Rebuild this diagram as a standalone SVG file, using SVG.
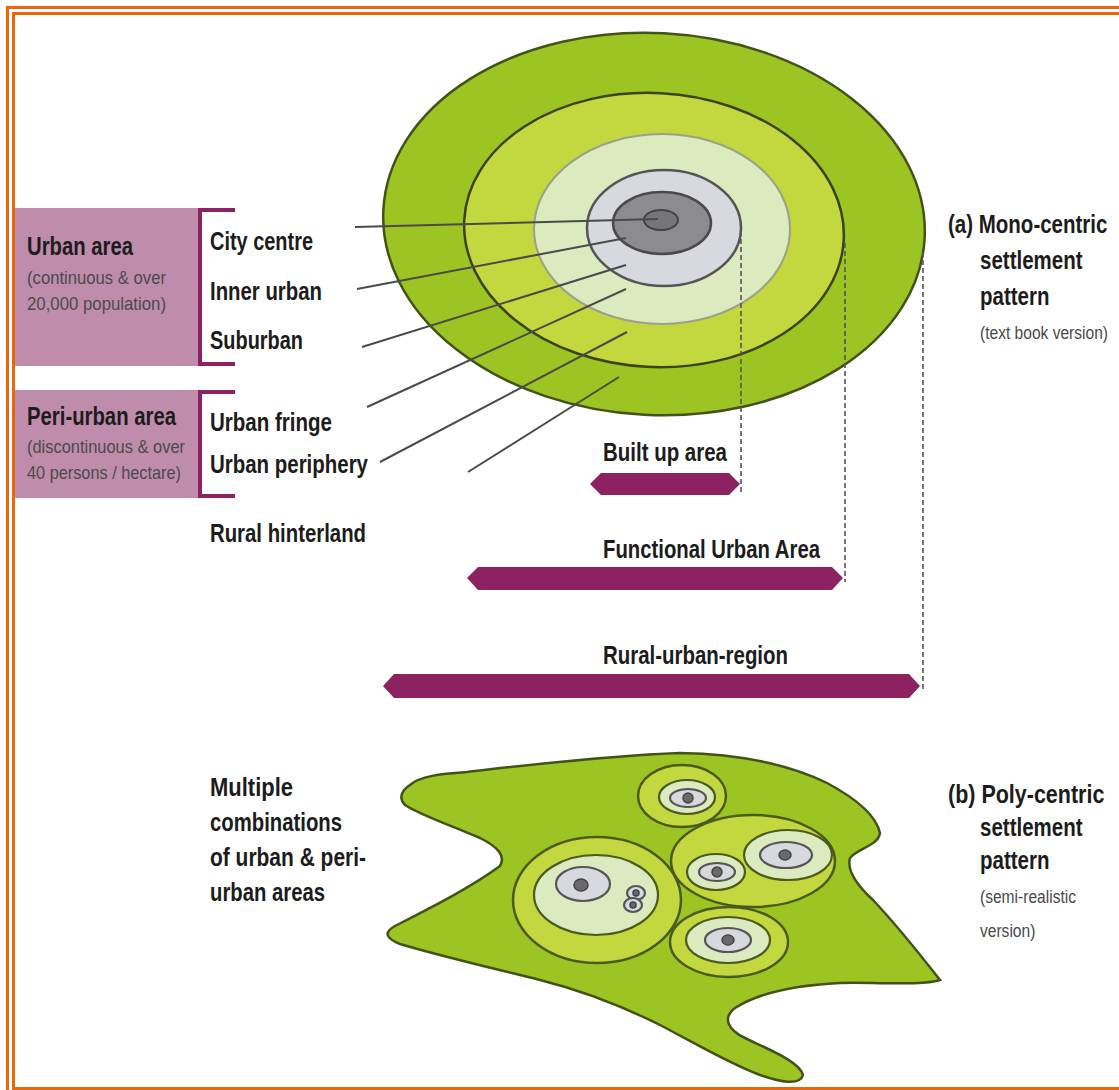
<svg xmlns="http://www.w3.org/2000/svg" width="1119" height="1090" viewBox="0 0 1119 1090">
  <defs>
    <style>
      .frame { fill: none; stroke: #E2690C; stroke-width: 3; }
      .lbl { font-family: "Liberation Sans Narrow", "Liberation Sans", Arial, sans-serif; font-weight: 700; fill: #1c1c1c; }
      .big { font-size: 26px; }
      .ttl { font-size: 25px; }
      .sub { font-size: 19px; font-weight: 400; fill: #4a4a4a; }
      .box { fill: #BF8DAB; }
      .bracket { fill: none; stroke: #8C2360; stroke-width: 4; }
      .bar { fill: #8C2360; }
      .leader { stroke: #4a4a4a; stroke-width: 2; fill: none; }
      .dash { stroke: #555; stroke-width: 1.6; stroke-dasharray: 5 3; fill: none; }
      .g1 { fill: #9CC423; stroke: #435218; stroke-width: 2.5; }
      .g2 { fill: #C3D73E; stroke: #3a4418; stroke-width: 2.5; }
      .g3 { fill: #DCEAC0; stroke: #9aa08a; stroke-width: 2; }
      .gr1 { fill: #D8D9DE; stroke: #555; stroke-width: 2.5; }
      .gr2 { fill: #8C8C90; stroke: #4a4a4a; stroke-width: 2.5; }
      .core { fill: #767679; stroke: #444; stroke-width: 2; }
      .s-g2 { fill: #C3D73E; stroke: #4B5A1E; stroke-width: 2.5; }
      .s-g3 { fill: #DCEAC0; stroke: #4B5A1E; stroke-width: 2.2; }
      .s-gr { fill: #D8D9DE; stroke: #555; stroke-width: 2.2; }
      .s-dot { fill: #6a6a6e; stroke: #444; stroke-width: 1.5; }
    </style>
  </defs>

  <rect width="1119" height="1090" fill="#ffffff"/>

  <!-- double frame -->
  <g id="frame">
    <path class="frame" d="M7.5 1090 V7.5 H1119"/>
    <path class="frame" d="M13.5 1090 V13.5 H1119"/>
    <path class="frame" d="M12 1088.5 H1119"/>
  </g>

  <!-- mono-centric settlement rings -->
  <g id="monocentric">
    <ellipse class="g1" cx="654" cy="224" rx="271" ry="191" transform="rotate(3 654 224)"/>
    <ellipse class="g2" cx="654" cy="230" rx="190" ry="137" transform="rotate(3 654 230)"/>
    <ellipse class="g3" cx="662" cy="229" rx="128" ry="95"/>
    <ellipse class="gr1" cx="664" cy="228" rx="77" ry="58"/>
    <ellipse class="gr2" cx="662" cy="223" rx="49" ry="31"/>
    <ellipse class="core" cx="661" cy="220" rx="17" ry="10"/>
  </g>

  <!-- poly-centric settlement pattern -->
  <g id="polycentric">
    <path class="g1" d="M410 785 C420 776 440 774 467 772 C520 766 600 756 680 753 C740 754 790 765 827 783 C855 798 876 815 880 833 C878 846 858 848 850 858 C846 872 860 888 873 900 C890 918 915 948 940 980 C920 986 880 982 840 983 C800 985 760 992 735 1008 C722 1018 728 1030 745 1038 C770 1050 800 1062 803 1075 C800 1086 780 1082 760 1075 C730 1064 700 1046 660 1025 C620 1005 580 990 540 980 C500 970 440 956 400 944 C385 938 384 932 395 926 C430 908 470 888 500 866 C506 856 498 847 480 838 C450 825 420 815 405 805 C398 798 402 790 410 785 Z"/>
    <!-- cluster B -->
    <g id="cluster-b">
      <ellipse class="s-g2" cx="597" cy="900" rx="84" ry="63"/>
      <ellipse class="s-g3" cx="596" cy="895" rx="62" ry="40"/>
      <ellipse class="s-gr" cx="583" cy="884" rx="27" ry="17"/>
      <ellipse class="s-dot" cx="581" cy="885" rx="7" ry="6"/>
      <ellipse class="s-gr" cx="636" cy="893" rx="9" ry="7"/>
      <circle class="s-dot" cx="636" cy="893" r="3"/>
      <ellipse class="s-gr" cx="633" cy="905" rx="9" ry="7"/>
      <circle class="s-dot" cx="633" cy="905" r="3"/>
    </g>
    <!-- cluster A -->
    <g id="cluster-a">
      <ellipse class="s-g2" cx="682" cy="796" rx="44" ry="31"/>
      <ellipse class="s-g3" cx="687" cy="797" rx="28" ry="17"/>
      <ellipse class="s-gr" cx="688" cy="798" rx="18" ry="9"/>
      <ellipse class="s-dot" cx="688" cy="798" rx="5" ry="5"/>
    </g>
    <!-- cluster C -->
    <g id="cluster-c">
      <ellipse class="s-g2" cx="753" cy="861" rx="82" ry="46"/>
      <ellipse class="s-g3" cx="788" cy="855" rx="44" ry="25"/>
      <ellipse class="s-gr" cx="786" cy="855" rx="26" ry="13"/>
      <ellipse class="s-dot" cx="785" cy="855" rx="6" ry="5"/>
      <ellipse class="s-g3" cx="716" cy="872" rx="29" ry="18"/>
      <ellipse class="s-gr" cx="717" cy="872" rx="18" ry="9"/>
      <ellipse class="s-dot" cx="717" cy="872" rx="5" ry="5"/>
    </g>
    <!-- cluster D -->
    <g id="cluster-d">
      <ellipse class="s-g2" cx="729" cy="942" rx="59" ry="35"/>
      <ellipse class="s-g3" cx="728" cy="940" rx="42" ry="23"/>
      <ellipse class="s-gr" cx="728" cy="940" rx="23" ry="12"/>
      <ellipse class="s-dot" cx="728" cy="940" rx="6" ry="5"/>
    </g>
  </g>

  <!-- leaders and extent guides -->
  <g id="connectors">
    <line class="leader" x1="355" y1="227" x2="658" y2="219"/>
    <line class="leader" x1="357" y1="289" x2="626" y2="238"/>
    <line class="leader" x1="362" y1="347" x2="626" y2="265"/>
    <line class="leader" x1="367" y1="407" x2="626" y2="289"/>
    <line class="leader" x1="380" y1="462" x2="627" y2="332"/>
    <line class="leader" x1="468" y1="472" x2="619" y2="377"/>
    <line class="dash" x1="741" y1="231" x2="741" y2="492"/>
    <line class="dash" x1="845" y1="243" x2="845" y2="582"/>
    <line class="dash" x1="923" y1="252" x2="923" y2="692"/>
  </g>

  <!-- urban area box -->
  <g id="urban-area">
    <rect class="box" x="15" y="208" width="183" height="158"/>
    <path class="bracket" d="M235 210 H200 V364 H235"/>
    <text class="lbl ttl" x="27" y="255" textLength="106" lengthAdjust="spacingAndGlyphs">Urban area</text>
    <text class="lbl sub" x="27" y="284" textLength="139" lengthAdjust="spacingAndGlyphs">(continuous &amp; over</text>
    <text class="lbl sub" x="27" y="310" textLength="139" lengthAdjust="spacingAndGlyphs">20,000 population)</text>
  </g>

  <!-- peri-urban area box -->
  <g id="peri-urban-area">
    <rect class="box" x="15" y="390" width="183" height="108"/>
    <path class="bracket" d="M235 392 H200 V496 H235"/>
    <text class="lbl ttl" x="27" y="425" textLength="149" lengthAdjust="spacingAndGlyphs">Peri-urban area</text>
    <text class="lbl sub" x="27" y="453" textLength="158" lengthAdjust="spacingAndGlyphs">(discontinuous &amp; over</text>
    <text class="lbl sub" x="27" y="479" textLength="154" lengthAdjust="spacingAndGlyphs">40 persons / hectare)</text>
  </g>

  <!-- zone labels -->
  <g id="zone-labels">
    <text class="lbl big" x="210" y="250" textLength="103" lengthAdjust="spacingAndGlyphs">City centre</text>
    <text class="lbl big" x="210" y="300" textLength="112" lengthAdjust="spacingAndGlyphs">Inner urban</text>
    <text class="lbl big" x="210" y="349" textLength="93" lengthAdjust="spacingAndGlyphs">Suburban</text>
    <text class="lbl big" x="210" y="431" textLength="122" lengthAdjust="spacingAndGlyphs">Urban fringe</text>
    <text class="lbl big" x="210" y="473" textLength="158" lengthAdjust="spacingAndGlyphs">Urban periphery</text>
    <text class="lbl big" x="210" y="542" textLength="156" lengthAdjust="spacingAndGlyphs">Rural hinterland</text>
  </g>

  <!-- extent bars -->
  <g id="built-up-area">
    <polygon class="bar" points="590,484 601,473 729,473 740,484 729,495 601,495"/>
    <text class="lbl big" x="603" y="461" textLength="124" lengthAdjust="spacingAndGlyphs">Built up area</text>
  </g>
  <g id="functional-urban-area">
    <polygon class="bar" points="467,578 478,567 832,567 843,578 832,590 478,590"/>
    <text class="lbl big" x="603" y="558" textLength="217" lengthAdjust="spacingAndGlyphs">Functional Urban Area</text>
  </g>
  <g id="rural-urban-region">
    <polygon class="bar" points="383,686 394,674 909,674 920,686 909,698 394,698"/>
    <text class="lbl big" x="603" y="664" textLength="185" lengthAdjust="spacingAndGlyphs">Rural-urban-region</text>
  </g>

  <!-- pattern captions (horizontally condensed by scaling) -->
  <g id="caption-a">
    <text class="lbl ttl" transform="translate(948 233) scale(0.82 1)">(a) Mono-centric</text>
    <text class="lbl ttl" transform="translate(980 269) scale(0.82 1)">settlement</text>
    <text class="lbl ttl" transform="translate(980 305) scale(0.82 1)">pattern</text>
    <text class="lbl sub" transform="translate(980 339) scale(0.82 1)">(text book version)</text>
  </g>
  <g id="caption-b">
    <text class="lbl ttl" transform="translate(948 803) scale(0.86 1)">(b) Poly-centric</text>
    <text class="lbl ttl" transform="translate(980 836) scale(0.82 1)">settlement</text>
    <text class="lbl ttl" transform="translate(980 869) scale(0.82 1)">pattern</text>
    <text class="lbl sub" transform="translate(980 903) scale(0.82 1)">(semi-realistic</text>
    <text class="lbl sub" transform="translate(980 937) scale(0.82 1)">version)</text>
  </g>
  <g id="caption-multiple">
    <text class="lbl big" x="210" y="796" textLength="83" lengthAdjust="spacingAndGlyphs">Multiple</text>
    <text class="lbl big" x="210" y="831" textLength="132" lengthAdjust="spacingAndGlyphs">combinations</text>
    <text class="lbl big" x="210" y="866" textLength="156" lengthAdjust="spacingAndGlyphs">of urban &amp; peri-</text>
    <text class="lbl big" x="210" y="901" textLength="115" lengthAdjust="spacingAndGlyphs">urban areas</text>
  </g>
</svg>
